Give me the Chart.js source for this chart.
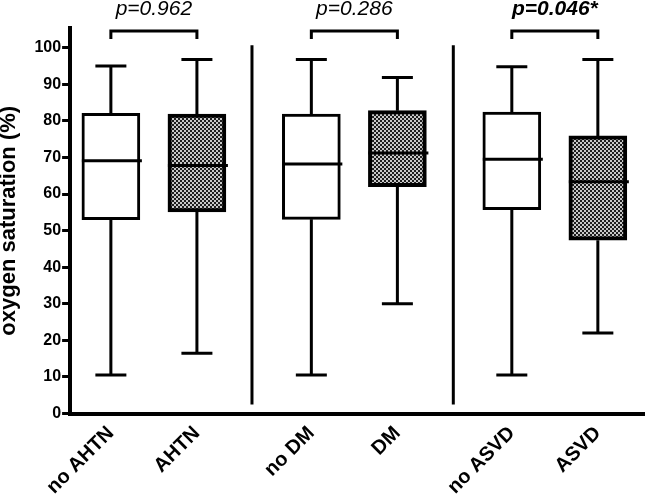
<!DOCTYPE html>
<html>
<head>
<meta charset="utf-8">
<script src="https://cdn.jsdelivr.net/npm/chart.js@4/dist/chart.umd.min.js"></script>
<style>
  html, body { margin: 0; padding: 0; background: #fff; }
  #wrap { width: 645px; height: 496px; }
</style>
</head>
<body>
<div id="wrap"><canvas id="boxChart"></canvas></div>
<script>
// groups and where they sit on the x axis
const groupLabels = ['no AHTN', 'AHTN', 'no DM', 'DM', 'no ASVD', 'ASVD'];
const groupX = [1, 2, 3.33, 4.33, 5.66, 6.66];
const patterned = [false, true, false, true, false, true];

// box plot values (oxygen saturation %)
const whiskerLow = [10.5, 16.5, 10.5, 30.0, 10.5, 22.0];
const q1 = [53.0, 55.1, 53.1, 62.0, 55.7, 47.4];
const median = [69.1, 67.8, 68.2, 71.2, 69.5, 63.4];
const q3 = [82.1, 81.9, 81.9, 82.8, 82.4, 75.9];
const whiskerHigh = [95.0, 96.8, 96.8, 91.9, 94.8, 96.8];

// comparisons between pairs
const pLabels = ['p=0.962', 'p=0.286', 'p=0.046*'];
const pBold = [false, false, true];
const separatorX = [2.64, 4.98];

const yTicks = [0, 10, 20, 30, 40, 50, 60, 70, 80, 90, 100];

const FONT = "'Liberation Sans', Arial, Helvetica, sans-serif";

// checker pattern for the filled boxes
function makePattern() {
  const c = document.createElement('canvas');
  c.width = 4; c.height = 4;
  const g = c.getContext('2d');
  g.fillStyle = '#c8c8c8';
  g.fillRect(0, 0, 4, 4);
  g.fillStyle = '#1e1e1e';
  g.fillRect(0, 0, 2, 2);
  g.fillRect(2, 2, 2, 2);
  return g.createPattern(c, 'repeat');
}
const checker = makePattern();

const boxData = groupX.map((x, i) => ({ x: x, y: [q1[i], q3[i]] }));

const boxExtras = {
  id: 'boxExtras',
  afterDatasetsDraw(chart) {
    const ctx = chart.ctx;
    const xs = chart.scales.x;
    const ys = chart.scales.y;
    ctx.save();
    ctx.strokeStyle = '#000';
    ctx.lineCap = 'butt';

    // whiskers + caps
    ctx.lineWidth = 3;
    groupX.forEach((gx, i) => {
      const px = xs.getPixelForValue(gx);
      const top = ys.getPixelForValue(whiskerHigh[i]);
      const bot = ys.getPixelForValue(whiskerLow[i]);
      const b3 = ys.getPixelForValue(q3[i]);
      const b1 = ys.getPixelForValue(q1[i]);
      ctx.beginPath();
      ctx.moveTo(px, top); ctx.lineTo(px, b3);
      ctx.moveTo(px, b1); ctx.lineTo(px, bot);
      ctx.moveTo(px - 15.5, top); ctx.lineTo(px + 15.5, top);
      ctx.moveTo(px - 15.5, bot); ctx.lineTo(px + 15.5, bot);
      ctx.stroke();
      // median
      const m = ys.getPixelForValue(median[i]);
      ctx.beginPath();
      ctx.moveTo(px - 29, m); ctx.lineTo(px + 31, m);
      ctx.stroke();
    });

    // separators between groups
    separatorX.forEach(sx => {
      const px = xs.getPixelForValue(sx);
      ctx.beginPath();
      ctx.moveTo(px, ys.getPixelForValue(100.7));
      ctx.lineTo(px, ys.getPixelForValue(2.5));
      ctx.stroke();
    });

    // brackets and p values
    for (let k = 0; k < pLabels.length; k++) {
      const xa = xs.getPixelForValue(groupX[2 * k]);
      const xb = xs.getPixelForValue(groupX[2 * k + 1]);
      const yt = ys.getPixelForValue(104.6);
      const yl = ys.getPixelForValue(102.4);
      ctx.beginPath();
      ctx.moveTo(xa, yl); ctx.lineTo(xa, yt); ctx.lineTo(xb, yt); ctx.lineTo(xb, yl);
      ctx.stroke();
      ctx.fillStyle = '#000';
      ctx.font = (pBold[k] ? 'italic bold ' : 'italic ') + '21px ' + FONT;
      ctx.textAlign = 'center';
      ctx.textBaseline = 'alphabetic';
      ctx.fillText(pLabels[k], (xa + xb) / 2, ys.getPixelForValue(108.9));
    }
    ctx.restore();
  }
};

const ctx = document.getElementById('boxChart');
new Chart(ctx, {
  type: 'bar',
  data: {
    datasets: [{
      data: boxData,
      backgroundColor: patterned.map(p => p ? checker : '#ffffff'),
      borderColor: '#000',
      borderWidth: patterned.map(p => p ? 4 : 3),
      borderSkipped: false,
      barThickness: 58
    }]
  },
  options: {
    responsive: true,
    maintainAspectRatio: false,
    animation: false,
    layout: { padding: { top: 28, right: 0, bottom: -3, left: -4 } },
    plugins: { legend: { display: false }, tooltip: { enabled: false } },
    scales: {
      x: {
        type: 'linear',
        offset: false,
        min: 0.526,
        max: 7.208,
        grid: { display: false },
        border: { display: true, color: '#000', width: 4 },
        afterBuildTicks(scale) {
          scale.ticks = groupX.map(v => ({ value: v }));
        },
        ticks: {
          autoSkip: false,
          minRotation: 45,
          maxRotation: 45,
          padding: 0,
          color: '#000',
          font: { family: FONT, size: 20, weight: 'bold' },
          callback(value) {
            const i = groupX.indexOf(value);
            return i >= 0 ? groupLabels[i] : '';
          }
        }
      },
      y: {
        min: 0,
        max: 105.4,
        grid: { display: true, drawOnChartArea: false, drawTicks: true, tickLength: 8, tickWidth: 3, color: '#000' },
        border: { display: true, color: '#000', width: 4 },
        afterBuildTicks(scale) {
          scale.ticks = yTicks.map(v => ({ value: v }));
        },
        ticks: {
          padding: 1,
          color: '#000',
          font: { family: FONT, size: 16, weight: 'bold' }
        },
        title: {
          display: true,
          text: 'oxygen saturation (%)',
          color: '#000',
          padding: { top: 0, bottom: 11 },
          font: { family: FONT, size: 22, weight: 'bold' }
        }
      }
    }
  },
  plugins: [boxExtras]
});
</script>
</body>
</html>
